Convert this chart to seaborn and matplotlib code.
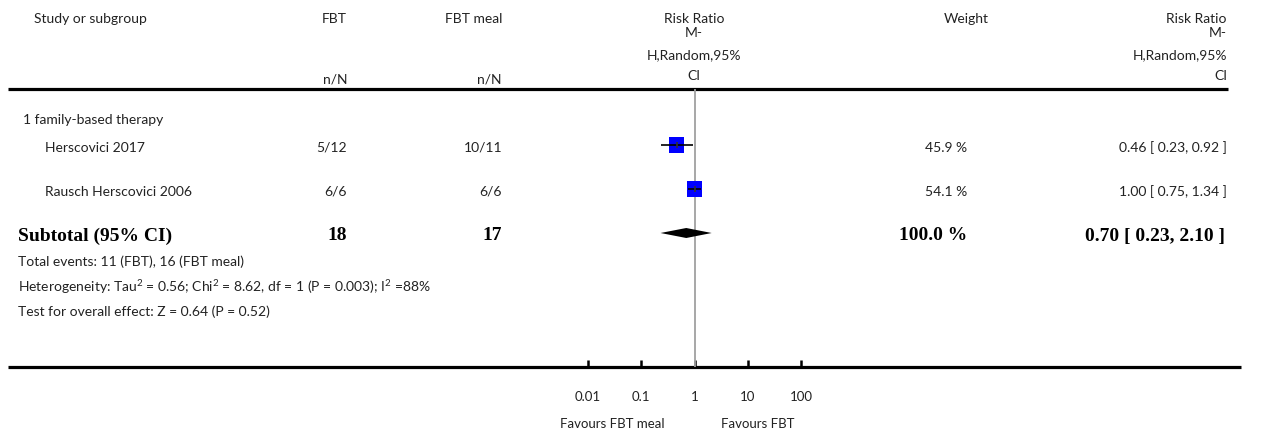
import matplotlib
matplotlib.use("Agg")
import matplotlib.pyplot as plt
import seaborn as sns
import pandas as pd

# ---- data -------------------------------------------------------------
group_label = "1 family-based therapy"
studies = ["Herscovici 2017", "Rausch Herscovici 2006"]
fbt_events = [5, 6]
fbt_total = [12, 6]
meal_events = [10, 6]
meal_total = [11, 6]
weights = [45.9, 54.1]
rr = [0.46, 1.00]
rr_lo = [0.23, 0.75]
rr_hi = [0.92, 1.34]

pooled_rr = 0.70
pooled_lo = 0.23
pooled_hi = 2.10

footnotes = [
    "Total events: 11 (FBT), 16 (FBT meal)",
    "Heterogeneity: Tau$^{2}$ = 0.56; Chi$^{2}$ = 8.62, df = 1 (P = 0.003); I$^{2}$ =88%",
    "Test for overall effect: Z = 0.64 (P = 0.52)",
]
tick_values = [0.01, 0.1, 1, 10, 100]
tick_labels = ["0.01", "0.1", "1", "10", "100"]
left_favour = "Favours FBT meal"
right_favour = "Favours FBT"

# ---- style ------------------------------------------------------------
sns.set_theme(style="white")
plt.rcParams["font.family"] = ["Lato", "DejaVu Sans"]
plt.rcParams["mathtext.fontset"] = "custom"
plt.rcParams["mathtext.rm"] = "Lato"
plt.rcParams["mathtext.it"] = "Lato"
plt.rcParams["mathtext.default"] = "rm"
TXT = "#222222"
FS = 10
SERIF = ["Liberation Serif", "DejaVu Serif"]

W, H = 1268, 434
fig = plt.figure(figsize=(W / 100, H / 100), dpi=100)

# layout layer in pixel units for the table text and rules
lay = fig.add_axes([0, 0, 1, 1])
lay.set_xlim(0, W)
lay.set_ylim(H, 0)
lay.axis("off")

# column anchors
x_name_group, x_name_study = 23, 45
x_fbt, x_meal = 347, 502
x_mid = 694
x_weight, x_rr = 967, 1227
y_top_rule, y_axis = 89, 367

# rows
y_group = 120
y_rows = [145, 189]
y_sub = 233
y_notes = [262, 287, 312]

# ---- header -----------------------------------------------------------
lay.text(90, 19, "Study or subgroup", ha="center", va="center", fontsize=FS, color=TXT)
lay.text(x_fbt, 19, "FBT", ha="right", va="center", fontsize=FS, color=TXT)
lay.text(x_meal, 19, "FBT meal", ha="right", va="center", fontsize=FS, color=TXT)
lay.text(x_fbt, 79, "n/N", ha="right", va="center", fontsize=FS, color=TXT)
lay.text(x_meal, 79, "n/N", ha="right", va="center", fontsize=FS, color=TXT)
head_lines = ["Risk Ratio", "M-", "H,Random,95%", "CI"]
head_y = [19, 33, 55, 76]
for t, yy in zip(head_lines, head_y):
    lay.text(x_mid, yy, t, ha="center", va="center", fontsize=FS, color=TXT)
    lay.text(x_rr, yy, t, ha="right", va="center", fontsize=FS, color=TXT)
lay.text(989, 19, "Weight", ha="right", va="center", fontsize=FS, color=TXT)

lay.plot([8, 1228], [y_top_rule, y_top_rule], color="black", lw=2.3, solid_capstyle="butt")
lay.plot([8, 1241], [y_axis, y_axis], color="black", lw=2.3, solid_capstyle="butt")

# ---- study rows -------------------------------------------------------
lay.text(x_name_group, y_group, group_label, ha="left", va="center", fontsize=FS, color=TXT)
for i, name in enumerate(studies):
    yy = y_rows[i] + 3
    lay.text(x_name_study, yy, name, ha="left", va="center", fontsize=FS, color=TXT)
    lay.text(x_fbt, yy, f"{fbt_events[i]}/{fbt_total[i]}", ha="right", va="center", fontsize=FS, color=TXT)
    lay.text(x_meal, yy, f"{meal_events[i]}/{meal_total[i]}", ha="right", va="center", fontsize=FS, color=TXT)
    lay.text(x_weight, yy, f"{weights[i]:.1f} %", ha="right", va="center", fontsize=FS, color=TXT)
    lay.text(x_rr, yy, f"{rr[i]:.2f} [ {rr_lo[i]:.2f}, {rr_hi[i]:.2f} ]",
             ha="right", va="center", fontsize=FS, color=TXT)

# ---- subtotal ---------------------------------------------------------
ys = y_sub + 3
bold = dict(fontsize=14, fontweight="bold", family=SERIF, color="black", va="center")
lay.text(18, ys, "Subtotal (95% CI)", ha="left", **bold)
lay.text(x_fbt, ys, f"{sum(fbt_total)}", ha="right", **bold)
lay.text(x_meal, ys, f"{sum(meal_total)}", ha="right", **bold)
lay.text(x_weight, ys, f"{sum(weights):.1f} %", ha="right", **bold)
lay.text(x_rr - 2, ys, f"{pooled_rr:.2f} [ {pooled_lo:.2f}, {pooled_hi:.2f} ]", ha="right", **bold)

for t, yy in zip(footnotes, y_notes):
    lay.text(18, yy, t, ha="left", va="center", fontsize=FS, color=TXT)

# ---- forest panel -----------------------------------------------------
x0, x1 = 588, 801
ax = fig.add_axes([x0 / W, (H - y_axis) / H, (x1 - x0) / W, (y_axis - y_top_rule) / H])
ax.set_xscale("log")
ax.set_xlim(tick_values[0], tick_values[-1])
ax.set_ylim(y_axis, y_top_rule)
ax.patch.set_alpha(0)
for s in ax.spines.values():
    s.set_visible(False)

ax.axvline(1, color="#a0a0a0", lw=1.3, zorder=1)

df = pd.DataFrame({"study": studies, "rr": rr, "lo": rr_lo, "hi": rr_hi, "y": y_rows})
sns.scatterplot(data=df, x="rr", y="y", marker="s", s=117, color="#0000ff",
                edgecolor="none", linewidth=0, legend=False, ax=ax, zorder=3)
ax.hlines(df["y"], df["lo"], df["hi"], color="black", lw=1.2, zorder=4)
ax.scatter(df["rr"], df["y"], marker="|", s=25, color="#333333", linewidths=1.2, zorder=5)

ax.fill([pooled_lo, pooled_rr, pooled_hi, pooled_rr],
        [y_sub, y_sub - 5, y_sub, y_sub + 5], color="black", lw=0, zorder=4)

ax.set_xticks(tick_values)
ax.set_xticklabels(tick_labels, fontsize=FS - 0.5, color=TXT)
ax.xaxis.set_minor_locator(matplotlib.ticker.NullLocator())
ax.tick_params(axis="x", direction="in", length=5, width=1.8, color="black", pad=17, bottom=True)
ax.tick_params(axis="y", left=False, labelleft=False)
ax.set_xlabel("")
ax.set_ylabel("")

lay.text(612, 424, left_favour, ha="center", va="center", fontsize=FS - 0.5, color=TXT)
lay.text(758, 424, right_favour, ha="center", va="center", fontsize=FS - 0.5, color=TXT)

fig.savefig("out.png", dpi=100)
